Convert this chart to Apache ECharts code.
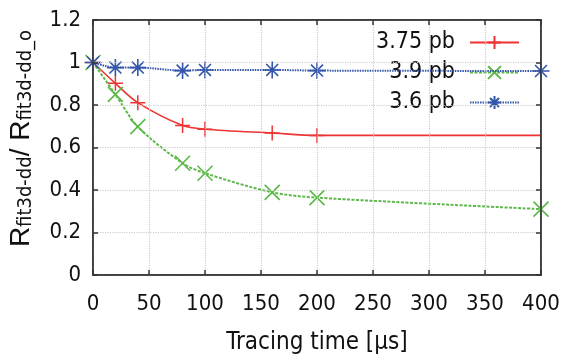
<!DOCTYPE html>
<html>
<head>
<meta charset="utf-8">
<script src="https://cdn.jsdelivr.net/npm/echarts@6/dist/echarts.min.js"></script>
<style>html,body{margin:0;padding:0;background:#fff;}#c{width:562px;height:364px;}</style>
</head>
<body>
<div id="c"></div>
<script>
var times = [0, 20, 40, 80, 100, 160, 200, 400];
var s375 = [1.0, 0.902, 0.811, 0.703, 0.686, 0.668, 0.657, 0.657];
var s39 = [1.0, 0.850, 0.698, 0.526, 0.479, 0.389, 0.364, 0.310];
var s36 = [1.0, 0.976, 0.976, 0.962, 0.965, 0.965, 0.962, 0.960];
var names = ['3.75 pb', '3.9 pb', '3.6 pb'];
var xTicks = {min: 0, max: 400, interval: 50};
var yTicks = {min: 0, max: 1.2, interval: 0.2};

var NARROW = '"Liberation Sans Narrow","DejaVu Sans Condensed",sans-serif';
var PLUS = 'path://M5 0L5 10M0 5L10 5';
var CROSS = 'path://M0 0L10 10M10 0L0 10';
var STAR = 'path://M5 0L5 10M0 5L10 5M1.5 1.5L8.5 8.5M8.5 1.5L1.5 8.5';

function pts(vals, lastNoSymbol) {
  return times.map(function (t, i) {
    var d = {value: [t, vals[i]]};
    if (lastNoSymbol && i === times.length - 1) d.symbol = 'none';
    return d;
  });
}

var chart = echarts.init(document.getElementById('c'));
function axisLine() { return {show: true, onZero: false, lineStyle: {color: '#333', width: 1.5}}; }
function tick() { return {show: true, inside: true, length: 5, lineStyle: {color: '#333', width: 1.5}}; }
function legendCfg(name, top) {
  return {
    data: [name], right: 38, top: top, orient: 'vertical', align: 'right',
    itemWidth: 49, itemHeight: 16, padding: [1, 4, 1, 8], z: 1,
    backgroundColor: '#fff',
    textStyle: {fontFamily: NARROW, fontSize: 23, color: '#111', padding: [0, 10, 0, 0]}
  };
}
var gridLine = {show: true, lineStyle: {color: '#ccc', type: 'dotted', width: 1.2}};
chart.setOption({
  animation: false,
  grid: {left: 93, right: 21, top: 20, bottom: 89, outerBoundsMode: 'none',
    show: true, borderColor: '#333', borderWidth: 1.5, backgroundColor: 'rgba(0,0,0,0)'},
  legend: [legendCfg(names[0], 30), legendCfg(names[1], 60), legendCfg(names[2], 90)],
  xAxis: [{
    type: 'value', min: xTicks.min, max: xTicks.max, interval: xTicks.interval, z: 10,
    axisLine: axisLine(), axisTick: tick(),
    axisLabel: {fontFamily: NARROW, fontSize: 22, color: '#111', margin: 18},
    splitLine: gridLine,
    name: 'Tracing time [\u03bcs]', nameLocation: 'middle', nameGap: 56,
    nameTextStyle: {fontFamily: NARROW, fontSize: 24, color: '#111'}
  }, {
    type: 'value', position: 'top', min: xTicks.min, max: xTicks.max, interval: xTicks.interval, z: 10,
    axisLine: axisLine(), axisTick: tick(), axisLabel: {show: false}, splitLine: {show: false}
  }],
  yAxis: [{
    type: 'value', min: yTicks.min, max: yTicks.max, interval: yTicks.interval, z: 10,
    axisLine: axisLine(), axisTick: tick(),
    axisLabel: {fontFamily: NARROW, fontSize: 22, color: '#111', margin: 12},
    splitLine: gridLine,
    name: '{r|R}{s|fit3d-dd}{r|/ R}{s|fit3d-dd_o}',
    nameLocation: 'middle', nameRotate: 90, nameGap: 57,
    nameTextStyle: {
      padding: [0, 0, 0, 18],
      rich: {
        r: {fontFamily: '"Liberation Sans",Arial,sans-serif', fontSize: 28, color: '#111', lineHeight: 30, verticalAlign: 'middle'},
        s: {fontFamily: NARROW, fontSize: 20, color: '#111', lineHeight: 20, padding: [24, 0, 0, 0], verticalAlign: 'bottom'}
      }
    }
  }, {
    type: 'value', position: 'right', min: yTicks.min, max: yTicks.max, interval: yTicks.interval, z: 10,
    axisLine: axisLine(), axisTick: tick(), axisLabel: {show: false}, splitLine: {show: false}
  }],
  series: [{
    name: names[0], type: 'line', data: pts(s375, true), smooth: 0.3, z: 5,
    symbol: PLUS, symbolSize: 15,
    lineStyle: {color: '#ee3333', width: 1.6},
    itemStyle: {color: 'rgba(0,0,0,0)', borderColor: '#ee3333', borderWidth: 1.5}
  }, {
    name: names[1], type: 'line', data: pts(s39), smooth: 0.3, z: 5,
    symbol: CROSS, symbolSize: 15,
    lineStyle: {color: '#5cb848', width: 2, type: [3, 1.5]},
    itemStyle: {color: 'rgba(0,0,0,0)', borderColor: '#5cb848', borderWidth: 1.6}
  }, {
    name: names[2], type: 'line', data: pts(s36), smooth: 0.3, z: 6,
    symbol: STAR, symbolSize: 17,
    lineStyle: {color: '#3355aa', width: 2, type: [1.5, 1]},
    itemStyle: {color: 'rgba(0,0,0,0)', borderColor: '#3355aa', borderWidth: 1.6}
  }]
});
</script>
</body>
</html>
